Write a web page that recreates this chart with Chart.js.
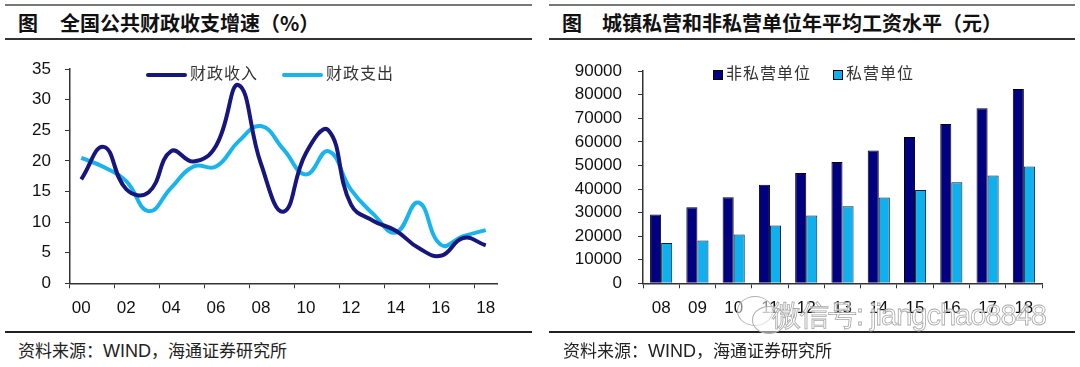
<!DOCTYPE html>
<html>
<head>
<meta charset="utf-8">
<script src="https://cdn.jsdelivr.net/npm/chart.js@4.4.1/dist/chart.umd.min.js"></script>
<style>
body { margin: 0; width: 1080px; height: 367px; background: #fff; position: relative; overflow: hidden; font-family: "Noto Sans CJK SC", sans-serif; }
.rule { position: absolute; }
.title { position: absolute; top: 9px; font-size: 20px; font-weight: bold; color: #111; line-height: 28px; white-space: nowrap; }
.source { position: absolute; top: 338px; font-size: 17px; color: #222; line-height: 24px; white-space: nowrap; }
.source span { font-family: "Liberation Sans", Arial, sans-serif; font-size: 18px; }
canvas { position: absolute; top: 45px; }
.legend { position: absolute; top: 61px; font-size: 16px; color: #333; line-height: 22px; letter-spacing: 1px; white-space: nowrap; }
.mark { display: inline-block; vertical-align: middle; margin-right: 3px; }
.wm { position: absolute; left: 772px; top: 296px; font-size: 29px; color: rgba(255,255,255,0.6); -webkit-text-stroke: 0.8px #a8a8a8; font-family: "Liberation Sans Narrow", "Liberation Sans", sans-serif; white-space: nowrap; letter-spacing: -1px; }
.bub { position: absolute; border: 1.2px solid #b0b0b0; border-radius: 50%; background: rgba(255,255,255,0.5); }
</style>
</head>
<body>
<div class="rule" style="left:5px;top:4px;width:527px;height:2px;background:#777"></div>
<div class="rule" style="left:5px;top:38px;width:527px;height:1.5px;background:#333"></div>
<div class="rule" style="left:5px;top:331px;width:527px;height:2px;background:#222"></div>
<div class="rule" style="left:549px;top:4px;width:526px;height:2px;background:#777"></div>
<div class="rule" style="left:549px;top:38px;width:526px;height:1.5px;background:#333"></div>
<div class="rule" style="left:549px;top:331px;width:526px;height:2px;background:#222"></div>

<div class="title" style="left:18px">图</div>
<div class="title" style="left:60px">全国公共财政收支增速（%）</div>
<div class="title" style="left:562px">图</div>
<div class="title" style="left:602px">城镇私营和非私营单位年平均工资水平（元）</div>

<canvas id="lineChart" width="540" height="275" style="left:0"></canvas>
<canvas id="barChart" width="540" height="275" style="left:540px"></canvas>

<div class="legend" style="left:146px"><span class="mark" style="width:41px;height:4px;background:#16167e;border-radius:2px"></span>财政收入</div>
<div class="legend" style="left:282px"><span class="mark" style="width:41px;height:4px;background:#19b4ec;border-radius:2px"></span>财政支出</div>
<div class="legend" style="left:713px"><span class="mark" style="width:8px;height:8px;background:#000080;border:1px solid #000"></span>非私营单位</div>
<div class="legend" style="left:833px"><span class="mark" style="width:8px;height:8px;background:#10b0ee;border:1px solid #000"></span>私营单位</div>

<div class="source" style="left:18px">资料来源：<span>WIND</span>，海通证券研究所</div>
<div class="source" style="left:563px">资料来源：<span>WIND</span>，海通证券研究所</div>

<div class="bub" style="left:737px;top:296px;width:34px;height:28px"></div>
<div class="bub" style="left:752px;top:306px;width:32px;height:26px"></div>
<div class="wm">微信号: jiangchao8848</div>

<script>
// 左图：财政收支增速（%）
var years = ['00','01','02','03','04','05','06','07','08','09','10','11','12','13','14','15','16','17','18'];
var revenue = [17.0, 22.3, 15.4, 14.9, 21.6, 19.9, 22.5, 32.4, 19.5, 11.7, 21.3, 25.0, 12.9, 10.2, 8.6, 5.8, 4.5, 7.4, 6.2];
var expense = [20.5, 19.0, 16.7, 11.8, 15.6, 19.1, 19.1, 23.2, 25.7, 21.9, 17.8, 21.6, 15.3, 11.3, 8.3, 13.2, 6.3, 7.7, 8.7];

// 右图：年平均工资（元）
var wageYears = ['08','09','10','11','12','13','14','15','16','17','18'];
var nonPrivate = [29229, 32244, 36539, 41799, 46769, 51483, 56360, 62029, 67569, 74318, 82413];
var privateUnit = [17071, 18199, 20759, 24556, 28752, 32706, 36390, 39589, 42833, 45761, 49575];

var tickFont = { family: '"Liberation Sans", Arial, sans-serif', size: 17 };
var axisColor = '#333';

new Chart(document.getElementById('lineChart'), {
    type: 'line',
    data: {
        labels: years,
        datasets: [{
            label: '财政收入',
            data: revenue,
            borderColor: '#16167e',
            borderWidth: 4,
            pointRadius: 0,
            tension: 0.45
        },
        {
            label: '财政支出',
            data: expense,
            borderColor: '#19b4ec',
            borderWidth: 4,
            pointRadius: 0,
            tension: 0.45
        }]
    },
    options: {
        responsive: false,
        animation: false,
        layout: { padding: { left: 0, right: 43, top: 22, bottom: 0 } },
        plugins: { legend: { display: false }, tooltip: { enabled: false } },
        scales: {
            x: {
                offset: true,
                grid: {
                    offset: true,
                    drawOnChartArea: false,
                    tickLength: 5,
                    color: function(ctx) { return ctx.index % 2 === 0 ? axisColor : 'rgba(0,0,0,0)'; }
                },
                border: { color: axisColor, width: 1.5 },
                ticks: {
                    autoSkip: false,
                    maxRotation: 0,
                    padding: 10,
                    color: '#111',
                    font: tickFont,
                    callback: function(v, i) { return i % 2 === 0 ? years[i] : ''; }
                },
                afterFit: function(scale) { scale.height = 36.7; }
            },
            y: {
                min: 0,
                max: 35,
                grid: { drawOnChartArea: false, tickLength: 5, color: axisColor },
                border: { color: axisColor, width: 1.5 },
                ticks: { stepSize: 5, padding: 14, color: '#111', font: tickFont },
                afterFit: function(scale) { scale.width = 70; }
            }
        }
    }
});

new Chart(document.getElementById('barChart'), {
    type: 'bar',
    data: {
        labels: wageYears,
        datasets: [{
            label: '非私营单位',
            data: nonPrivate,
            backgroundColor: '#000080',
            borderColor: '#000',
            borderWidth: 1,
            categoryPercentage: 0.61,
            barPercentage: 1
        },
        {
            label: '私营单位',
            data: privateUnit,
            backgroundColor: '#10b0ee',
            borderColor: '#0b1f3a',
            borderWidth: 1,
            categoryPercentage: 0.61,
            barPercentage: 1
        }]
    },
    options: {
        responsive: false,
        animation: false,
        layout: { padding: { left: 0, right: 38, top: 22, bottom: 0 } },
        plugins: { legend: { display: false }, tooltip: { enabled: false } },
        scales: {
            x: {
                grid: { offset: true, drawOnChartArea: false, tickLength: 5, color: axisColor },
                border: { color: axisColor, width: 1.5 },
                ticks: { autoSkip: false, maxRotation: 0, padding: 10, color: '#111', font: tickFont },
                afterFit: function(scale) { scale.height = 36.7; }
            },
            y: {
                min: 0,
                max: 90000,
                grid: { drawOnChartArea: false, tickLength: 5, color: axisColor },
                border: { color: axisColor, width: 1.5 },
                ticks: {
                    stepSize: 10000,
                    padding: 16,
                    color: '#111',
                    font: tickFont,
                    callback: function(v) { return String(v); }
                },
                afterFit: function(scale) { scale.width = 103; }
            }
        }
    }
});
</script>
</body>
</html>
